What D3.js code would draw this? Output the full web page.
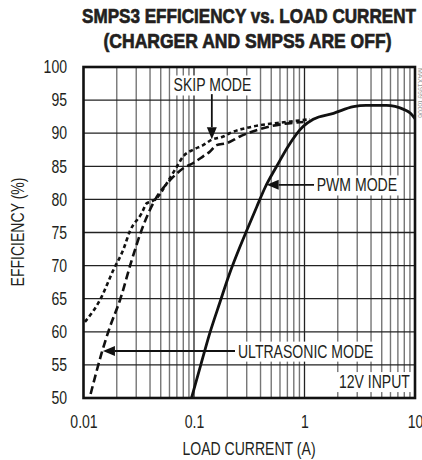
<!DOCTYPE html>
<html>
<head>
<meta charset="utf-8">
<script src="https://cdn.jsdelivr.net/npm/d3@7"></script>
<style>
	html, body { margin: 0; padding: 0; background: #fff; }
	svg { display: block; }
	text { font-family: "Liberation Sans", Arial, sans-serif; fill: #231f20; }
</style>
</head>
<body>
<svg id="chart" width="422" height="460"></svg>
<script>
// 축 눈금
const currentTicks = [0.01, 0.1, 1, 10];
const effTicks = [50, 55, 60, 65, 70, 75, 80, 85, 90, 95, 100];

// SKIP MODE (짧은 점선)
const skipCurrent = [0.0103, 0.0141, 0.0186, 0.0229, 0.0263, 0.0336, 0.0373, 0.0414, 0.046, 0.0566, 0.0697, 0.080, 0.098, 0.121, 0.144, 0.184, 0.21, 0.34, 0.69, 1.12];
const skipEff     = [61.5, 64.8, 69.3, 72.4, 75.2, 77.9, 79.4, 79.7, 80.2, 82.4, 84.9, 86.5, 87.5, 88.2, 89.0, 89.5, 90.0, 91.0, 91.7, 92.1];

// ULTRASONIC MODE (긴 점선)
const ultraCurrent = [0.0116, 0.0146, 0.0174, 0.0214, 0.0273, 0.0336, 0.0443, 0.0606, 0.080, 0.0985, 0.121, 0.139, 0.16, 0.198, 0.26, 0.48, 0.98];
const ultraEff     = [50.6, 56.8, 60.8, 64.8, 70.8, 75.4, 79.9, 82.9, 84.7, 85.5, 86.5, 87.2, 88.2, 88.5, 89.5, 91.0, 91.7];

// PWM MODE (실선)
const pwmCurrent = [0.095, 0.113, 0.139, 0.172, 0.21, 0.26, 0.30, 0.37, 0.44, 0.56, 0.71, 0.97, 1.2, 1.83, 2.77, 3.6, 5.5, 7.9, 9.1, 10];
const pwmEff     = [50, 54.5, 59.8, 64.5, 68.8, 72.8, 75.3, 78.9, 81.8, 85.0, 88.0, 91.0, 92.1, 93.0, 94.0, 94.2, 94.2, 93.6, 93.0, 92.2];

// 주석 (데이터 좌표)
const notes = [
	{ text: "SKIP MODE",       x: 0.147, y: 96.3, anchor: "middle" },
	{ text: "PWM MODE",        x: 1.29,  y: 81.2, anchor: "start" },
	{ text: "ULTRASONIC MODE", x: 0.25,  y: 56.1, anchor: "start" },
	{ text: "12V INPUT",       x: 9.0,   y: 51.5, anchor: "end" }
];
const arrows = [
	{ x1: 0.145, y1: 95.9, x2: 0.145, y2: 89.1 },
	{ x1: 1.22,  y1: 82.2, x2: 0.455, y2: 82.2 },
	{ x1: 0.235, y1: 57.1, x2: 0.0150, y2: 57.1 }
];

const svg = d3.select("#chart");
const L = 83.5, R = 415, T = 67, B = 398;
const FS = 18, SQUEEZE = 0.78; // 좁은 글꼴 흉내

const x = d3.scaleLog().domain([0.01, 10]).range([L, R]);
const y = d3.scaleLinear().domain([50, 100]).range([B, T]);

/** 글자를 가로로 좁히는 함수 */
function narrow(node) {
	const w = node.getComputedTextLength();
	d3.select(node).attr("textLength", w * SQUEEZE).attr("lengthAdjust", "spacingAndGlyphs");
}

// title
const title = svg.append("g").attr("class", "title")
	.attr("font-size", 21).attr("font-weight", "bold")
	.attr("stroke", "#231f20").attr("stroke-width", 0.7);
title.append("text").attr("x", 249).attr("y", 23).attr("text-anchor", "middle")
	.attr("textLength", 334).attr("lengthAdjust", "spacingAndGlyphs")
	.text("SMPS3 EFFICIENCY vs. LOAD CURRENT");
title.append("text").attr("x", 247.5).attr("y", 48).attr("text-anchor", "middle")
	.attr("textLength", 288).attr("lengthAdjust", "spacingAndGlyphs")
	.text("(CHARGER AND SMPS5 ARE OFF)");

// grid
const minor = [];
[0.01, 0.1, 1].forEach(d => { for (let k = 2; k <= 9; k++) minor.push(d * k); });
const grid = svg.append("g");
grid.selectAll(".vminor").data(minor).enter().append("line")
	.attr("x1", d => x(d)).attr("x2", d => x(d)).attr("y1", T).attr("y2", B)
	.attr("stroke", "#767676").attr("stroke-width", 1.4);
grid.selectAll(".vmajor").data([0.1, 1]).enter().append("line")
	.attr("x1", d => x(d)).attr("x2", d => x(d)).attr("y1", T).attr("y2", B)
	.attr("stroke", "#222").attr("stroke-width", 1.3);
grid.selectAll(".h").data(effTicks.slice(1, -1)).enter().append("line")
	.attr("x1", L).attr("x2", R).attr("y1", d => y(d)).attr("y2", d => y(d))
	.attr("stroke", "#222").attr("stroke-width", 1.3);

// note labels with white boxes
const noteG = svg.append("g");
notes.forEach(n => {
	const g = noteG.append("g");
	const t = g.append("text").attr("x", x(n.x)).attr("y", y(n.y))
		.attr("text-anchor", n.anchor).attr("font-size", FS).text(n.text);
	narrow(t.node());
	const bb = t.node().getBBox();
	g.insert("rect", "text").attr("x", bb.x - 3).attr("y", bb.y)
		.attr("width", bb.width + 6).attr("height", bb.height).attr("fill", "#fff");
});

// curves
const line = d3.line().x(d => x(d[0])).y(d => y(d[1])).curve(d3.curveMonotoneX);
const zip = (a, b) => a.map((v, i) => [v, b[i]]);
const curves = svg.append("g");
curves.append("path").datum(zip(skipCurrent, skipEff)).attr("d", line)
	.attr("fill", "none").attr("stroke", "#111").attr("stroke-width", 2.6).attr("stroke-dasharray", "4,3");
curves.append("path").datum(zip(ultraCurrent, ultraEff)).attr("d", line)
	.attr("fill", "none").attr("stroke", "#111").attr("stroke-width", 2.6).attr("stroke-dasharray", "8,4");
curves.append("path").datum(zip(pwmCurrent, pwmEff)).attr("d", line)
	.attr("fill", "none").attr("stroke", "#111").attr("stroke-width", 2.8);

// arrows
const arr = svg.append("g");
arrows.forEach(a => {
	const x1 = x(a.x1), y1 = y(a.y1), x2 = x(a.x2), y2 = y(a.y2);
	const ang = Math.atan2(y2 - y1, x2 - x1);
	const len = 12, w = 5;
	const bx = x2 - len * Math.cos(ang), by = y2 - len * Math.sin(ang);
	arr.append("line").attr("x1", x1).attr("y1", y1).attr("x2", bx).attr("y2", by)
		.attr("stroke", "#111").attr("stroke-width", 1.8);
	arr.append("path")
		.attr("d", `M${x2},${y2}L${bx - w * Math.sin(ang)},${by + w * Math.cos(ang)}L${bx + w * Math.sin(ang)},${by - w * Math.cos(ang)}Z`)
		.attr("fill", "#111");
});

// frame
svg.append("rect").attr("x", L).attr("y", T).attr("width", R - L).attr("height", B - T)
	.attr("fill", "none").attr("stroke", "#111").attr("stroke-width", 2.6);

// axes
const yAxis = svg.append("g").attr("transform", `translate(${L},0)`)
	.call(d3.axisLeft(y).tickValues(effTicks).tickSize(0).tickPadding(16.5).tickFormat(d3.format("d")));
yAxis.select(".domain").remove();
yAxis.selectAll("text").attr("font-size", FS).style("fill", "#231f20").each(function() { narrow(this); });

const xAxis = svg.append("g").attr("transform", `translate(0,${B})`)
	.call(d3.axisBottom(x).tickValues(currentTicks).tickSize(0).tickPadding(17).tickFormat(d => String(d)));
xAxis.select(".domain").remove();
xAxis.selectAll("text").attr("font-size", FS).style("fill", "#231f20").each(function() { narrow(this); });

const xt = svg.append("text").attr("x", 249).attr("y", 455).attr("text-anchor", "middle")
	.attr("font-size", FS).text("LOAD CURRENT (A)");
narrow(xt.node());
const yt = svg.append("text").attr("transform", "translate(24,232) rotate(-90)").attr("text-anchor", "middle")
	.attr("font-size", FS).text("EFFICIENCY (%)");
narrow(yt.node());

// 오른쪽 도면 번호
svg.append("text").attr("transform", "translate(418,68) rotate(90)")
	.attr("font-size", 7).style("fill", "#999").text("MAX1999 toc06");
</script>
</body>
</html>
